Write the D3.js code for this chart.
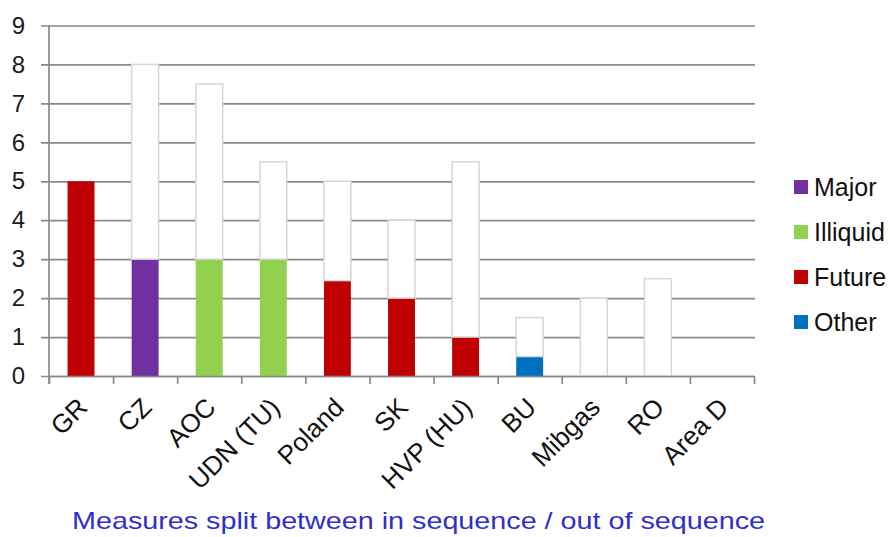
<!DOCTYPE html>
<html>
<head>
<meta charset="utf-8">
<script src="https://cdn.jsdelivr.net/npm/d3@7"></script>
<style>
  body { margin: 0; background: #fff; }
  svg { display: block; font-family: "Liberation Sans", Arial, sans-serif; }
  .grid line { stroke: #8a8a8a; stroke-width: 1.7; }
  .grid path { display: none; }
  .axis-y text { fill: #1b1b1b; font-size: 24px; }
  .axis-x text { fill: #111; font-size: 26px; }
  .axis-x line, .axis-x path, .axis-line { stroke: #8a8a8a; stroke-width: 1.7; }
  .legend text { font-size: 25px; fill: #111; }
</style>
</head>
<body>
<svg id="chart" width="890" height="537"></svg>
<script>
const categories = ["GR", "CZ", "AOC", "UDN (TU)", "Poland", "SK", "HVP (HU)", "BU", "Mibgas", "RO", "Area D"];
const major      = [0, 3, 0, 0, 0, 0, 0, 0, 0, 0, 0];
const illiquid   = [0, 0, 3, 3, 0, 0, 0, 0, 0, 0, 0];
const future     = [5, 0, 0, 0, 2.45, 2, 1, 0, 0, 0, 0];
const other      = [0, 0, 0, 0, 0, 0, 0, 0.5, 0, 0, 0];
const outOfSeq   = [0, 5, 4.5, 2.5, 2.55, 2, 4.5, 1, 2, 2.5, 0];
const yTicks     = [0, 1, 2, 3, 4, 5, 6, 7, 8, 9];

const seriesKeys = ["Major", "Illiquid", "Future", "Other", "Out"];
const colors = { Major: "#7030a0", Illiquid: "#92d050", Future: "#c00000", Other: "#0070c0", Out: "#ffffff" };
const legendKeys = ["Major", "Illiquid", "Future", "Other"];

const rows = categories.map((c, i) => ({
  cat: c, Major: major[i], Illiquid: illiquid[i], Future: future[i], Other: other[i], Out: outOfSeq[i]
}));

const plotLeft = 49, plotRight = 754, plotTop = 25.5, plotBottom = 376;
const svg = d3.select("#chart");

const x = d3.scaleBand().domain(categories).range([plotLeft, plotRight]).paddingInner(0.58).paddingOuter(0.29);
const y = d3.scaleLinear().domain([0, 9]).range([plotBottom, plotTop]);

// horizontal grid lines
svg.append("g")
  .attr("class", "grid")
  .attr("transform", `translate(${plotRight + 1},0)`)
  .call(d3.axisLeft(y).tickValues(yTicks).tickSize(plotRight + 1 - 41).tickFormat(""));

// y labels
svg.append("g")
  .attr("class", "axis-y")
  .attr("transform", `translate(${plotLeft},0)`)
  .call(d3.axisLeft(y).tickValues(yTicks).tickSize(0).tickPadding(24))
  .call(g => g.select(".domain").remove());

// vertical axis line
svg.append("line")
  .attr("class", "axis-line")
  .attr("x1", plotLeft).attr("x2", plotLeft)
  .attr("y1", y(9)).attr("y2", y(0) + 8);

// bars
const stacked = d3.stack().keys(seriesKeys)(rows);
svg.append("g")
  .selectAll("g")
  .data(stacked)
  .join("g")
  .attr("fill", d => colors[d.key])
  .attr("stroke", d => d.key === "Out" ? "#d6d6d6" : "none")
  .attr("stroke-width", 1.5)
  .selectAll("rect")
  .data(d => d.filter(s => s[1] - s[0] > 0))
  .join("rect")
  .attr("x", d => x(d.data.cat))
  .attr("width", x.bandwidth())
  .attr("y", d => y(d[1]))
  .attr("height", d => y(d[0]) - y(d[1]));

// x axis with ticks at category boundaries
const bounds = d3.scaleLinear().domain([0, categories.length]).range([plotLeft, plotRight]);
svg.append("g")
  .attr("class", "axis-x")
  .attr("transform", `translate(0,${plotBottom})`)
  .call(d3.axisBottom(bounds).tickValues(d3.range(categories.length + 1)).tickSize(8).tickSizeOuter(0).tickFormat(""));

// category labels
svg.append("g")
  .attr("class", "axis-x")
  .selectAll("text")
  .data(categories)
  .join("text")
  .attr("text-anchor", "end")
  .attr("transform", d => `translate(${x(d) + x.bandwidth() / 2 + 8},${plotBottom + 33}) rotate(-45)`)
  .text(d => d);

// legend
const legend = svg.append("g").attr("class", "legend");
legendKeys.forEach((k, i) => {
  const yy = 187 + i * 45;
  legend.append("rect")
    .attr("x", 794).attr("y", yy - 7).attr("width", 14).attr("height", 14)
    .attr("fill", colors[k]);
  legend.append("text")
    .attr("x", 814).attr("y", yy + 9)
    .text(k);
});

// title
svg.append("text")
  .attr("x", 72)
  .attr("y", 529)
  .attr("fill", "#3030c8")
  .attr("font-size", 24)
  .attr("textLength", 693)
  .attr("lengthAdjust", "spacingAndGlyphs")
  .text("Measures split between in sequence / out of sequence");
</script>
</body>
</html>
